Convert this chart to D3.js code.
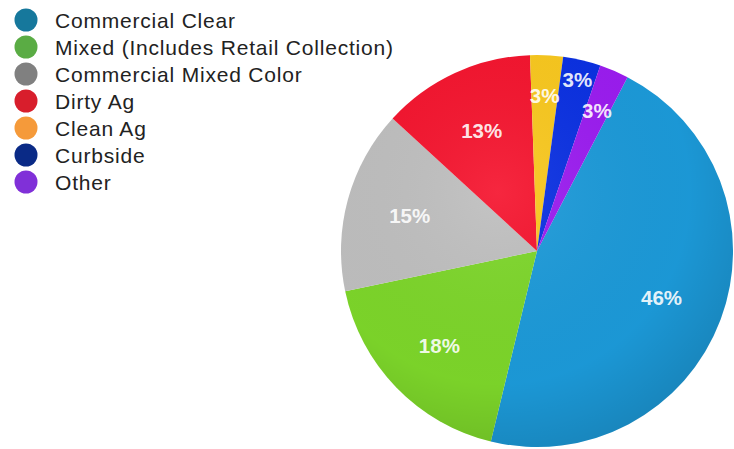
<!DOCTYPE html>
<html>
<head>
<meta charset="utf-8">
<script src="https://cdn.jsdelivr.net/npm/d3@7"></script>
<style>
  body { margin: 0; background: #fff; }
  svg { display: block; font-family: "Liberation Sans", Arial, sans-serif; }
</style>
</head>
<body>
<div id="chart"></div>
<script>
// data (shares, labels as printed)
var categories = ["Commercial Clear", "Mixed (Includes Retail Collection)", "Commercial Mixed Color",
                  "Dirty Ag", "Clean Ag", "Curbside", "Other"];
var shares = [46.1, 17.9, 15.1, 12.6, 2.7, 3.1, 2.4];
var labels = ["46%", "18%", "15%", "13%", "3%", "3%", "3%"];
var legendColors = ["#16789c", "#5aac44", "#808080", "#d81e2c", "#f59a3a", "#0a2a86", "#8030d8"];
var sliceColors = ["#1c9ad9", "#7dd62a", "#bfbfbf", "#f5142e", "#f9c81e", "#0a30e2", "#9b1cf0"];

var width = 734, height = 449;
var cx = 537, cy = 251, radius = 196;

var svg = d3.select("#chart").append("svg")
    .attr("width", width)
    .attr("height", height);

var defs = svg.append("defs");
var shade = defs.append("radialGradient")
    .attr("id", "shade")
    .attr("cx", "40%").attr("cy", "35%").attr("r", "70%");
shade.append("stop").attr("offset", "0%").attr("stop-color", "#fff").attr("stop-opacity", 0.08);
shade.append("stop").attr("offset", "70%").attr("stop-color", "#000").attr("stop-opacity", 0.02);
shade.append("stop").attr("offset", "100%").attr("stop-color", "#000").attr("stop-opacity", 0.14);

// legend
var legend = svg.append("g").attr("transform", "translate(26,20)");
var rows = legend.selectAll("g")
    .data(categories)
    .enter().append("g")
    .attr("transform", function(d, i) { return "translate(0," + (i * 27) + ")"; });
rows.append("circle")
    .attr("r", 11.5)
    .attr("fill", function(d, i) { return legendColors[i]; });
rows.append("text")
    .attr("x", 29)
    .attr("dy", "0.36em")
    .attr("font-size", 21)
    .attr("letter-spacing", 0.8)
    .attr("fill", "#222")
    .text(function(d) { return d; });

// pie
var start = 27.5 * Math.PI / 180;
var pie = d3.pie().sort(null).startAngle(start).endAngle(start + 2 * Math.PI);
var arcs = pie(shares);
var arc = d3.arc().innerRadius(0).outerRadius(radius);

var g = svg.append("g").attr("transform", "translate(" + cx + "," + cy + ")");
g.selectAll("path")
    .data(arcs)
    .enter().append("path")
    .attr("d", arc)
    .attr("fill", function(d, i) { return sliceColors[i]; });

g.append("circle").attr("r", radius).attr("fill", "url(#shade)");

// label radii: big slices sit mid-way, the thin ones are staggered
var labelR = [133, 136, 132, 132, 155, 176, 152];
g.selectAll("text")
    .data(arcs)
    .enter().append("text")
    .attr("transform", function(d, i) {
      var a = (d.startAngle + d.endAngle) / 2;
      return "translate(" + (Math.sin(a) * labelR[i]) + "," + (-Math.cos(a) * labelR[i]) + ")";
    })
    .attr("text-anchor", "middle")
    .attr("dy", "0.35em")
    .attr("font-size", 20.5)
    .attr("font-weight", "bold")
    .attr("fill", "#fff")
    .attr("fill-opacity", 0.9)
    .text(function(d, i) { return labels[i]; });
</script>
</body>
</html>
